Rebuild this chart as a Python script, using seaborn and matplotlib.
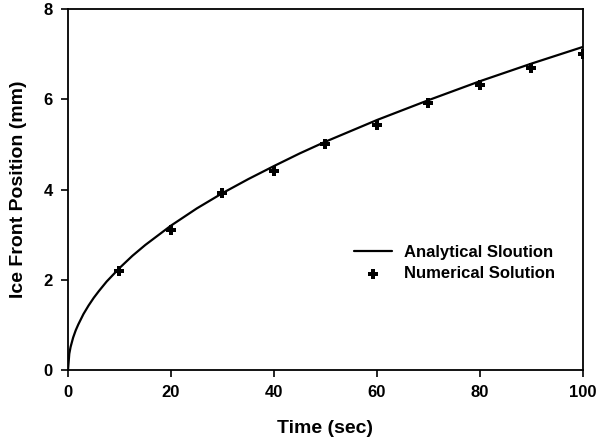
import matplotlib
matplotlib.use("Agg")
import matplotlib.pyplot as plt
import seaborn as sns
import pandas as pd

# Analytical solution
time_analytical = [0, 0.25, 0.5, 1, 1.5, 2, 3, 4, 5, 6, 7.5, 10, 12.5, 15, 20, 25, 30, 35, 40,
                   45, 50, 60, 70, 80, 90, 100]
pos_analytical = [0, 0.36, 0.51, 0.72, 0.88, 1.01, 1.24, 1.43, 1.60, 1.75, 1.96, 2.26, 2.53,
                  2.77, 3.20, 3.58, 3.92, 4.23, 4.52, 4.80, 5.06, 5.54, 5.98, 6.40, 6.79, 7.16]

# Numerical solution
time_numerical = [10, 20, 30, 40, 50, 60, 70, 80, 90, 100]
pos_numerical = [2.20, 3.10, 3.92, 4.42, 5.01, 5.44, 5.91, 6.31, 6.69, 7.01]

x_ticks = [0, 20, 40, 60, 80, 100]
y_ticks = [0, 2, 4, 6, 8]

df_a = pd.DataFrame({"t": time_analytical, "y": pos_analytical})
df_n = pd.DataFrame({"t": time_numerical, "y": pos_numerical})

sns.set_theme(style="white")
plt.rcParams["font.family"] = ["Liberation Sans", "DejaVu Sans"]
plt.rcParams["font.weight"] = "bold"
plt.rcParams["text.color"] = "black"
plt.rcParams["axes.labelcolor"] = "black"
plt.rcParams["xtick.color"] = "black"
plt.rcParams["ytick.color"] = "black"

fig = plt.figure(figsize=(6.05, 4.45), dpi=100)
ax = fig.add_axes([0.1124, 0.1685, 0.8512, 0.8113])

sns.lineplot(data=df_a, x="t", y="y", ax=ax, color="black", linewidth=1.6,
             label="Analytical Sloution")
sns.scatterplot(data=df_n, x="t", y="y", ax=ax, color="black", marker="P",
                s=60, linewidth=0, label="Numerical Solution")

ax.set_xlim(0, 100)
ax.set_ylim(0, 8)
ax.set_xticks(x_ticks)
ax.set_yticks(y_ticks)
ax.set_xticklabels([str(v) for v in x_ticks], fontsize=12, fontweight="bold")
ax.set_yticklabels([str(v) for v in y_ticks], fontsize=12, fontweight="bold")
ax.set_xlabel("Time (sec)", fontsize=14, fontweight="bold", labelpad=14)
ax.set_ylabel("Ice Front Position (mm)", fontsize=14, fontweight="bold", labelpad=12)

for s in ax.spines.values():
    s.set_color("black")
    s.set_linewidth(1.3)
ax.tick_params(axis="both", which="both", direction="out", length=5, width=1.2,
               color="black", labelcolor="black",
               bottom=True, left=True, top=False, right=False, pad=6)

leg = ax.legend(loc="lower right", bbox_to_anchor=(0.975, 0.205), frameon=False,
                prop={"size": 12, "weight": "bold"}, handlelength=2.3,
                labelspacing=0.35, handletextpad=0.7)

fig.savefig("out.png", dpi=100)
